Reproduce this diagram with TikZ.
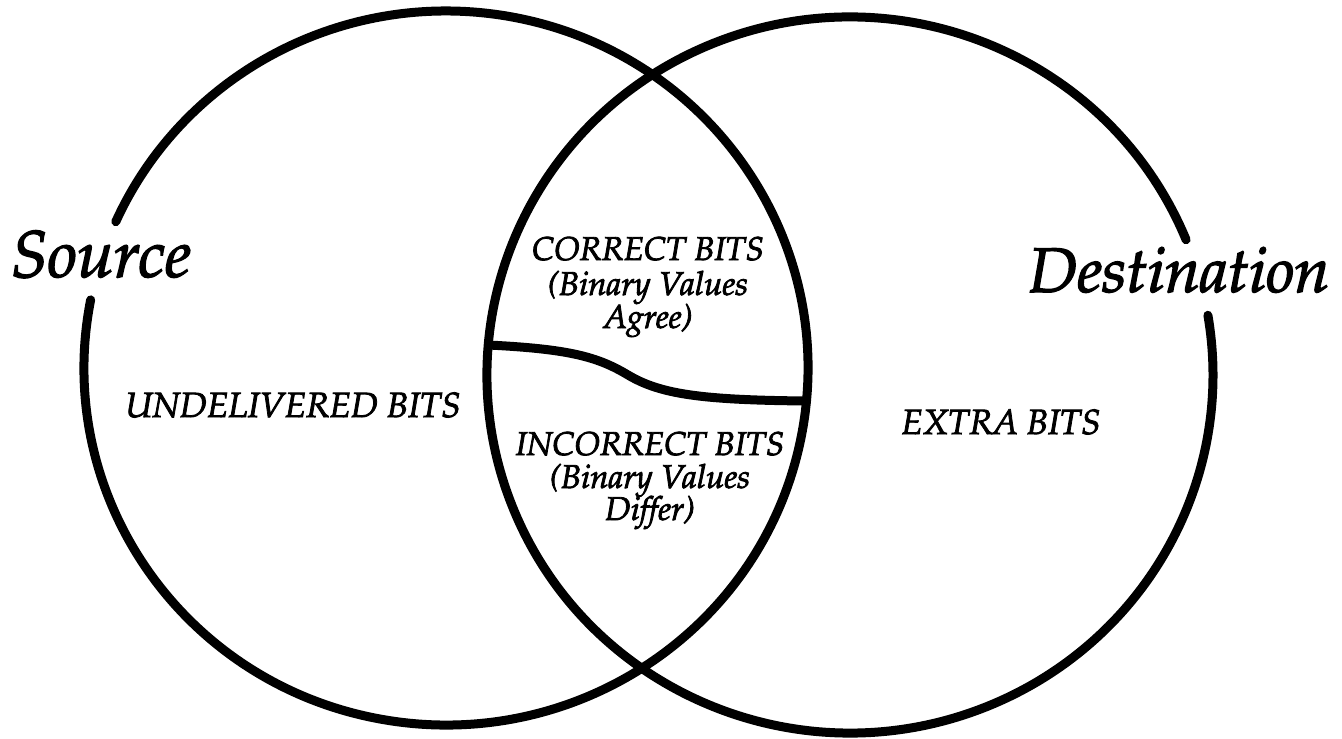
\documentclass[tikz,border=0pt]{standalone}
\usepackage[T1]{fontenc}
\usepackage{mathpazo}
\newcommand{\heavyink}[1]{\special{pdf:literal direct 2 Tr #1 w}}
\tikzset{
  ring/.style={line width=9pt, line cap=round, black},
  biglabel/.style={font=\fontsize{66}{74}\selectfont\itshape\heavyink{1.4}, anchor=base, inner sep=0pt},
  label/.style={font=\fontsize{33}{37}\selectfont\itshape\heavyink{0.8}, anchor=base, inner sep=0pt},
  widelabel/.style={label, font=\fontsize{35}{39}\selectfont\itshape\heavyink{0.8}}
}
\begin{document}
\begin{tikzpicture}[x=1pt,y=1pt]
\useasboundingbox (0,0) rectangle (1342,739);
\fill[white] (0,0) rectangle (1342,739);
\coordinate (L) at (446,371);
\coordinate (R) at (850,364);
% circles with gaps for titles
\draw[ring] (L) ++(169:362 and 357) arc[start angle=169, end angle=515.8, x radius=362, y radius=357];
\draw[ring] (R) ++(22.2:363 and 358) arc[start angle=22.2, end angle=369.6, x radius=363, y radius=358];
% divider
\coordinate (dl) at (488,394);
\coordinate (dm) at (628,364);
\coordinate (dr) at (806,338);
\draw[ring, line cap=butt] (dl) .. controls (570,390) and (598,382) .. (dm)
  .. controls (660,345) and (700,339) .. (dr);
% titles
\node[biglabel] (src) at (101,462) {Source};
\node[biglabel, font=\fontsize{63}{70}\selectfont\itshape\heavyink{1.4}] (dst) at (1179,447) {Destination};
% region labels
\node[widelabel] (und) at (293,322) {UNDELIVERED BITS};
\node[widelabel] (ext) at (1001,305) {EXTRA BITS};
\node[label] (cor1) at (648,479) {CORRECT BITS};
\node[label] (cor2) at (648,444) {(Binary Values};
\node[label] (cor3) at (648,411) {Agree)};
\node[label] (inc1) at (650,284) {INCORRECT BITS};
\node[label] (inc2) at (650,251) {(Binary Values};
\node[label] (inc3) at (650,219) {Differ)};
\end{tikzpicture}
\end{document}
